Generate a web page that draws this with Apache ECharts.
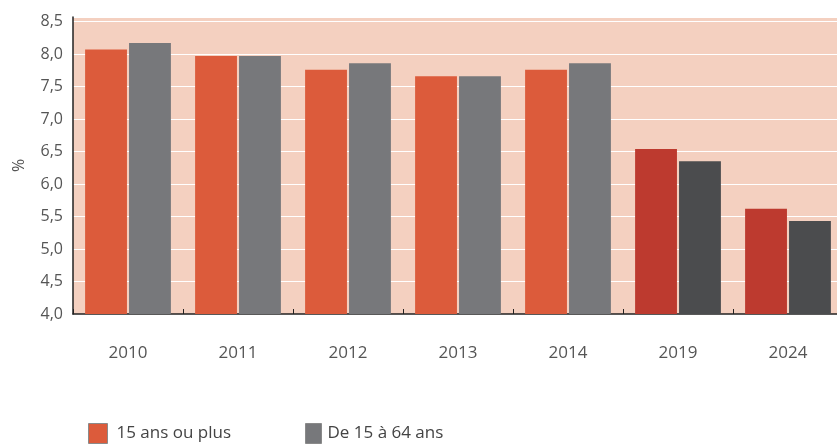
<!DOCTYPE html>
<html lang="fr">
<head>
  <meta charset="UTF-8">
  <title>Taux</title>
  <script src="https://cdn.jsdelivr.net/npm/echarts@6/dist/echarts.min.js"></script>
  <style>
    html, body { margin: 0; padding: 0; background: #fff; }
  </style>
</head>
<body>
  <div id="chart" style="width: 837px; height: 445px;"></div>

  <script>
    // données
    let years = ['2010', '2011', '2012', '2013', '2014', '2019', '2024']
    let plus15 = [8.07, 7.97, 7.76, 7.66, 7.76, 6.54, 5.62]
    let age15to64 = [8.17, 7.97, 7.86, 7.66, 7.86, 6.35, 5.43]
    let yTicks = [4.0, 4.5, 5.0, 5.5, 6.0, 6.5, 7.0, 7.5, 8.0, 8.5]
    // années récentes en couleur plus foncée
    let darkYears = ['2019', '2024']

    let font = '"Open Sans", "Noto Sans", sans-serif'

    function paint(values, light, dark) {
      return values.map((v, i) => ({
        value: v,
        itemStyle: { color: darkYears.includes(years[i]) ? dark : light }
      }))
    }

    let myChart = echarts.init(document.querySelector('#chart'))

    let options = {
      animation: false,
      textStyle: { fontFamily: font },
      grid: {
        left: 73,
        right: -6,
        top: 17,
        bottom: 131,
        outerBoundsMode: 'none',
        show: true,
        backgroundColor: '#f4d0c0',
        borderWidth: 0
      },
      legend: [
        {
          data: ['15 ans ou plus'],
          left: 88,
          top: 423,
          padding: 0,
          itemWidth: 19,
          itemHeight: 20,
          icon: 'rect',
          itemStyle: { borderColor: '#8a8a8a', borderWidth: 1 },
          textStyle: { fontSize: 17, color: '#444', fontFamily: font, padding: [0, 0, 0, 4] }
        },
        {
          data: ['De 15 à 64 ans'],
          left: 305,
          top: 423,
          padding: 0,
          itemWidth: 16,
          itemHeight: 20,
          icon: 'rect',
          itemStyle: { borderColor: '#8a8a8a', borderWidth: 1 },
          textStyle: { fontSize: 17, color: '#444', fontFamily: font, padding: [0, 0, 0, 1] }
        }
      ],
      xAxis: {
        type: 'category',
        data: years,
        axisLine: { lineStyle: { color: '#222', width: 1.5 } },
        axisTick: { show: true, inside: true, length: 5, lineStyle: { color: '#222' } },
        axisLabel: { margin: 31, fontSize: 17, color: '#555', fontFamily: font }
      },
      yAxis: {
        type: 'value',
        min: yTicks[0],
        max: 8.57,
        interval: 0.5,
        name: '%',
        nameLocation: 'middle',
        nameRotate: 90,
        nameGap: 46,
        nameTextStyle: { fontSize: 16, color: '#555', fontFamily: font },
        axisLine: { show: true, lineStyle: { color: '#222', width: 1.5 } },
        axisTick: { show: false },
        axisLabel: {
          margin: 10,
          fontSize: 16,
          color: '#555',
          fontFamily: font,
          showMaxLabel: false,
          formatter: v => yTicks.includes(Math.round(v * 10) / 10) ? v.toFixed(1).replace('.', ',') : ''
        },
        splitLine: { show: true, lineStyle: { color: '#fff', width: 1.2 } }
      },
      series: [
        {
          name: '15 ans ou plus',
          type: 'bar',
          data: paint(plus15, '#dc5b3b', '#bd3a2f'),
          itemStyle: { color: '#dc5b3b' },
          barGap: '5%',
          barCategoryGap: '22%'
        },
        {
          name: 'De 15 à 64 ans',
          type: 'bar',
          data: paint(age15to64, '#77787b', '#4b4c4e'),
          itemStyle: { color: '#77787b' },
          barGap: '5%',
          barCategoryGap: '22%'
        }
      ]
    }

    myChart.setOption(options)
  </script>
</body>
</html>
